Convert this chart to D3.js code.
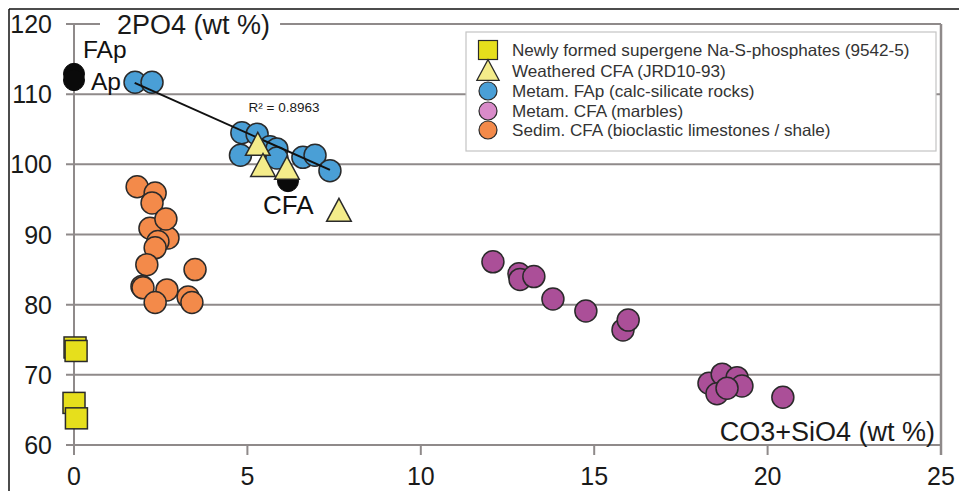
<!DOCTYPE html>
<html><head><meta charset="utf-8">
<script src="https://cdn.jsdelivr.net/npm/d3@7"></script>
<style>
html,body{margin:0;padding:0;background:#fff;}
svg{display:block;font-family:"Liberation Sans",Arial,sans-serif;}
</style></head>
<body><svg id="c" width="959" height="491"></svg>
<script>
// ---------- data ----------
const xTicks = [0, 5, 10, 15, 20, 25];
const yTicks = [60, 70, 80, 90, 100, 110, 120];
const xTitle = "CO3+SiO4 (wt %)";
const yTitle = "2PO4 (wt %)";

const seriesNames = [
  "Newly formed supergene Na-S-phosphates (9542-5)",
  "Weathered CFA (JRD10-93)",
  "Metam. FAp (calc-silicate rocks)",
  "Metam. CFA (marbles)",
  "Sedim. CFA (bioclastic limestones / shale)"
];

// Newly formed supergene Na-S-phosphates
const naX = [0.03, 0.06, 0.0, 0.07];
const naY = [73.9, 73.4, 66.0, 63.8];

// Weathered CFA
const wX = [5.30, 5.45, 6.14, 7.64];
const wY = [102.6, 99.6, 99.2, 93.2];

// Metam. FAp (calc-silicate rocks)
const fapX = [1.76, 2.25, 4.84, 4.80, 5.28, 5.65, 5.85, 5.85, 6.60, 6.95, 7.38];
const fapY = [111.7, 111.7, 104.5, 101.3, 104.3, 102.5, 102.2, 100.9, 101.0, 101.3, 99.1];

// Metam. CFA (marbles)
const cfaX = [12.08, 12.83, 12.86, 13.26, 13.81, 14.76, 15.83, 15.98, 18.31, 18.69, 18.54, 19.12, 19.26, 18.83, 20.44];
const cfaY = [86.1, 84.4, 83.6, 84.0, 80.8, 79.1, 76.4, 77.8, 68.8, 70.1, 67.3, 69.6, 68.4, 68.1, 66.8];

// Sedim. CFA (bioclastic limestones / shale)
const sedX = [1.82, 2.34, 2.25, 2.19, 2.71, 2.65, 2.42, 2.34, 2.10, 3.49, 1.96, 1.99, 2.68, 2.34, 3.29, 3.40];
const sedY = [96.8, 95.9, 94.5, 90.9, 89.5, 92.2, 89.0, 88.1, 85.7, 85.0, 82.6, 82.4, 82.1, 80.3, 81.1, 80.3];

// reference end-members (black)
const refLabels = ["FAp", "Ap", "CFA"];
const refX = [0, 0, 6.17];
const refY = [112.9, 112.0, 97.6];

// regression line of Metam. FAp
const trendX = [1.75, 7.38];
const trendY = [111.6, 99.2];
const r2Text = "R² = 0.8963";

// ---------- drawing ----------
const svg = d3.select("#c");
const x = d3.scaleLinear().domain([0, 25]).range([74, 941]);
const y = d3.scaleLinear().domain([60, 120]).range([445, 24]);

const gridCol = "#8f8a8a";
const stroke = "#2a2a2a";
const colYellow = "#e6df1c", colTri = "#f4ec8a", colBlue = "#4a9fd6",
      colPurple = "#ab4f98", colPink = "#d98bc9", colOrange = "#f38a4a";
const txtCol = "#1a1a1a";

// outer frame (top + left)
svg.append("line").attr("x1", 9).attr("x2", 959).attr("y1", 9).attr("y2", 9)
  .attr("stroke", "#111").attr("stroke-width", 1.5);
svg.append("line").attr("x1", 9).attr("x2", 9).attr("y1", 9).attr("y2", 491)
  .attr("stroke", "#111").attr("stroke-width", 1.5);

// horizontal gridlines with left ticks
svg.append("g").selectAll("line").data(yTicks).join("line")
  .attr("x1", x(0) - 8).attr("x2", x(25))
  .attr("y1", d => y(d)).attr("y2", d => y(d))
  .attr("stroke", gridCol).attr("stroke-width", 2);

// y axis line and right border
svg.append("line").attr("x1", x(0)).attr("x2", x(0)).attr("y1", y(120)).attr("y2", y(60) + 10)
  .attr("stroke", gridCol).attr("stroke-width", 2);
svg.append("line").attr("x1", x(25)).attr("x2", x(25)).attr("y1", y(120)).attr("y2", y(60) + 10)
  .attr("stroke", gridCol).attr("stroke-width", 2.5);
// x ticks
svg.append("g").selectAll("line").data(xTicks).join("line")
  .attr("x1", d => x(d)).attr("x2", d => x(d))
  .attr("y1", y(60)).attr("y2", y(60) + 10)
  .attr("stroke", gridCol).attr("stroke-width", 2);

// tick labels
svg.append("g").selectAll("text").data(yTicks).join("text")
  .attr("x", 52).attr("y", d => y(d)).attr("dy", "0.36em")
  .attr("text-anchor", "end").attr("font-size", 25).attr("fill", txtCol)
  .text(d => d);
svg.append("g").selectAll("text").data(xTicks).join("text")
  .attr("x", d => x(d)).attr("y", 485)
  .attr("text-anchor", "middle").attr("font-size", 25).attr("fill", txtCol)
  .text(d => d);

// y title with white background over the top line
const ytg = svg.append("g");
const ytBg = ytg.append("rect").attr("fill", "#fff");
const yt = ytg.append("text").attr("x", 117).attr("y", 34)
  .attr("font-size", 27).attr("fill", txtCol).text(yTitle);
const bb = yt.node().getBBox();
ytBg.attr("x", bb.x - 17).attr("y", bb.y).attr("width", bb.width + 27).attr("height", bb.height);

// x title
svg.append("text").attr("x", 935).attr("y", 441).attr("text-anchor", "end")
  .attr("font-size", 27).attr("fill", txtCol).text(xTitle);

const R = 11;
function circles(xs, ys, fill) {
  svg.append("g").selectAll("circle").data(xs.map((v, i) => [v, ys[i]])).join("circle")
    .attr("cx", d => x(d[0])).attr("cy", d => y(d[1])).attr("r", R)
    .attr("fill", fill).attr("stroke", stroke).attr("stroke-width", 1.5);
}
const triPath = s => `M0,${-s * 0.62}L${s * 0.56},${s * 0.42}L${-s * 0.56},${s * 0.42}Z`;

// series
circles(sedX, sedY, colOrange);
circles(cfaX, cfaY, colPurple);
circles(fapX, fapY, colBlue);

// trend line
svg.append("line")
  .attr("x1", x(trendX[0])).attr("y1", y(trendY[0]))
  .attr("x2", x(trendX[1])).attr("y2", y(trendY[1]))
  .attr("stroke", "#111").attr("stroke-width", 2);
svg.append("text").attr("x", 284).attr("y", 112).attr("text-anchor", "middle")
  .attr("font-size", 13.5).attr("fill", txtCol).text(r2Text);

// black reference points
svg.append("g").selectAll("circle").data(refX.map((v, i) => [v, refY[i]])).join("circle")
  .attr("cx", d => x(d[0])).attr("cy", d => y(d[1])).attr("r", 10.5)
  .attr("fill", "#0a0a0a").attr("stroke", "#0a0a0a").attr("stroke-width", 1);

// triangles
svg.append("g").selectAll("path").data(wX.map((v, i) => [v, wY[i]])).join("path")
  .attr("transform", d => `translate(${x(d[0])},${y(d[1])})`)
  .attr("d", triPath(22)).attr("fill", colTri).attr("stroke", stroke).attr("stroke-width", 1.5);

// squares
svg.append("g").selectAll("rect").data(naX.map((v, i) => [v, naY[i]])).join("rect")
  .attr("x", d => x(d[0]) - 11).attr("y", d => y(d[1]) - 10.5)
  .attr("width", 22).attr("height", 21)
  .attr("fill", colYellow).attr("stroke", stroke).attr("stroke-width", 1.5);

// reference labels
const refLabPos = [[83, 58], [91, 90], [263, 214]];
svg.append("g").selectAll("text").data(refLabels).join("text")
  .attr("x", (d, i) => refLabPos[i][0]).attr("y", (d, i) => refLabPos[i][1])
  .attr("font-size", (d, i) => i === 2 ? 26 : 24.5).attr("fill", "#111").text(d => d);

// legend
const lg = svg.append("g");
lg.append("rect").attr("x", 466).attr("y", 32).attr("width", 470).attr("height", 119)
  .attr("fill", "#fff").attr("stroke", "#c4c4c4").attr("stroke-width", 1.2);
const rowY = [50, 71, 91, 111, 130];
const lx = 488;
lg.append("rect").attr("x", lx - 9.5).attr("y", rowY[0] - 9.5).attr("width", 19).attr("height", 19)
  .attr("fill", colYellow).attr("stroke", stroke).attr("stroke-width", 1.2);
lg.append("path").attr("transform", `translate(${lx},${rowY[1] + 1})`).attr("d", triPath(20))
  .attr("fill", colTri).attr("stroke", stroke).attr("stroke-width", 1.2);
[colBlue, colPink, colOrange].forEach((c, i) => {
  lg.append("circle").attr("cx", lx).attr("cy", rowY[i + 2]).attr("r", 9)
    .attr("fill", c).attr("stroke", stroke).attr("stroke-width", 1.2);
});
const lt = lg.selectAll("text.l").data(seriesNames).join("text").attr("class", "l")
  .attr("x", 512).attr("y", (d, i) => rowY[i]).attr("dy", "0.36em")
  .attr("font-size", 16).attr("fill", "#333").text(d => d);
// scale legend font so first entry spans the same width as the reference (~398px)
const w0 = lt.node().getComputedTextLength();
lt.attr("font-size", 16 * 398 / w0);
</script></body></html>
